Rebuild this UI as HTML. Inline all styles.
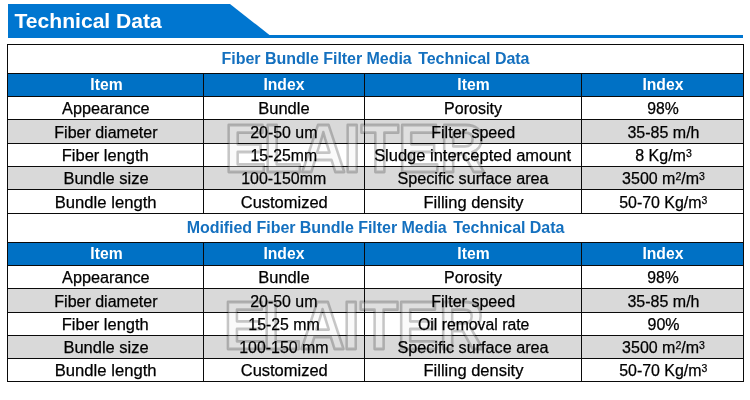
<!DOCTYPE html>
<html lang="en"><head><meta charset="utf-8"><title>Technical Data</title>
<style>
html,body{margin:0;padding:0;background:#fff;}
body{width:750px;height:400px;position:relative;overflow:hidden;font-family:"Liberation Sans",Arial,sans-serif;color:#000;}
.banner{position:absolute;left:8px;top:4px;width:262px;height:34px;background:#0076d0;clip-path:polygon(0 0,222px 0,261.5px 31px,262px 34px,0 34px);}
.bline{position:absolute;left:8px;top:35px;width:735px;height:3px;background:#0076d0;}
.btxt{position:absolute;left:14.5px;top:5px;height:31px;line-height:31px;font-size:21.1px;font-weight:bold;color:#fff;white-space:nowrap;letter-spacing:0;}
.tbl{position:absolute;left:7px;top:44px;width:737px;height:338px;background:#0a0a0a;}
.row{position:absolute;left:0;width:737px;}
.c{position:absolute;top:0;height:100%;display:flex;align-items:center;justify-content:center;white-space:nowrap;font-size:16px;}
.w .c,.g .c{-webkit-text-stroke:0.25px #000;}
.w .c{background:#fff;}
.g .c{background:#d9d9d9;}
.head .c{background:#0071c5;color:#fff;font-weight:bold;font-size:16px;}
.head .c span{transform:scaleX(0.98);top:0px;}
.title .c{background:#fff;color:#1470bf;font-weight:bold;font-size:16px;letter-spacing:-0.04px;}
.title .c span{top:0px;}
.title i{display:inline-block;width:2.1px;}
.w .c span,.g .c span{transform:scaleX(1.03);top:1px;}
.c span{display:block;position:relative;z-index:2;}
sup{font-size:10.5px;line-height:0;vertical-align:baseline;position:relative;top:-3.8px;}
.wm{position:absolute;left:0;top:0;width:750px;height:400px;pointer-events:none;z-index:1;}
</style></head><body>
<div class="banner"></div><div class="bline"></div><div class="btxt">Technical Data</div>
<div class="tbl">
<div class="row title" style="top:1px;height:28px"><div class="c" style="left:1px;width:735px"><span>Fiber Bundle Filter Media <i></i>Technical Data</span></div></div>
<div class="row head" style="top:30px;height:22px"><div class="c" style="left:1px;width:195px"><span style="transform:translateX(1px) scaleX(0.98)">Item</span></div><div class="c" style="left:197px;width:160px"><span>Index</span></div><div class="c" style="left:358px;width:216px"><span>Item</span></div><div class="c" style="left:575px;width:161px"><span>Index</span></div></div>
<div class="row w" style="top:53px;height:22px"><div class="c" style="left:1px;width:195px"><span style="transform:translateX(0.7px) scaleX(1.015)">Appearance</span></div><div class="c" style="left:197px;width:160px"><span style="transform:translateX(0px) scaleX(1.03)">Bundle</span></div><div class="c" style="left:358px;width:216px"><span style="transform:translateX(0px) scaleX(1.0)">Porosity</span></div><div class="c" style="left:575px;width:161px"><span style="transform:translateX(1px) scaleX(0.985)">98%</span></div></div>
<div class="row g" style="top:76px;height:23px"><div class="c" style="left:1px;width:195px"><span style="transform:translateX(0.4px) scaleX(1.0)">Fiber diameter</span></div><div class="c" style="left:197px;width:160px"><span style="transform:translateX(0px) scaleX(0.995)">20-50 um</span></div><div class="c" style="left:358px;width:216px"><span style="transform:translateX(0.4px) scaleX(1.005)">Filter speed</span></div><div class="c" style="left:575px;width:161px"><span style="transform:translateX(1px) scaleX(1.0)">35-85 m/h</span></div></div>
<div class="row w" style="top:100px;height:22px"><div class="c" style="left:1px;width:195px"><span style="transform:translateX(0px) scaleX(1.03)">Fiber length</span></div><div class="c" style="left:197px;width:160px"><span style="transform:translateX(0px) scaleX(0.985)">15-25mm</span></div><div class="c" style="left:358px;width:216px"><span style="transform:translateX(0px) scaleX(1.03)">Sludge intercepted amount</span></div><div class="c" style="left:575px;width:161px"><span style="transform:translateX(1px) scaleX(1.0)">8 Kg/m<sup>3</sup></span></div></div>
<div class="row g" style="top:123px;height:22px"><div class="c" style="left:1px;width:195px"><span style="transform:translateX(0.7px) scaleX(1.03)">Bundle size</span></div><div class="c" style="left:197px;width:160px"><span style="transform:translateX(0px) scaleX(0.995)">100-150mm</span></div><div class="c" style="left:358px;width:216px"><span style="transform:translateX(0.3px) scaleX(1.012)">Specific surface area</span></div><div class="c" style="left:575px;width:161px"><span style="transform:translateX(1px) scaleX(1.0)">3500 m<sup>2</sup>/m<sup>3</sup></span></div></div>
<div class="row w" style="top:146px;height:23px"><div class="c" style="left:1px;width:195px"><span style="transform:translateX(-0.3px) scaleX(1.04)">Bundle length</span></div><div class="c" style="left:197px;width:160px"><span style="transform:translateX(0px) scaleX(1.03)">Customized</span></div><div class="c" style="left:358px;width:216px"><span style="transform:translateX(0px) scaleX(1.03)">Filling density</span></div><div class="c" style="left:575px;width:161px"><span style="transform:translateX(1px) scaleX(0.995)">50-70 Kg/m<sup>3</sup></span></div></div>
<div class="row title" style="top:170px;height:28px"><div class="c" style="left:1px;width:735px"><span>Modified Fiber Bundle Filter Media <i></i>Technical Data</span></div></div>
<div class="row head" style="top:199px;height:22px"><div class="c" style="left:1px;width:195px"><span style="transform:translateX(1px) scaleX(0.98)">Item</span></div><div class="c" style="left:197px;width:160px"><span>Index</span></div><div class="c" style="left:358px;width:216px"><span>Item</span></div><div class="c" style="left:575px;width:161px"><span>Index</span></div></div>
<div class="row w" style="top:222px;height:22px"><div class="c" style="left:1px;width:195px"><span style="transform:translateX(0.7px) scaleX(1.015)">Appearance</span></div><div class="c" style="left:197px;width:160px"><span style="transform:translateX(0px) scaleX(1.03)">Bundle</span></div><div class="c" style="left:358px;width:216px"><span style="transform:translateX(0px) scaleX(1.0)">Porosity</span></div><div class="c" style="left:575px;width:161px"><span style="transform:translateX(1px) scaleX(0.985)">98%</span></div></div>
<div class="row g" style="top:245px;height:23px"><div class="c" style="left:1px;width:195px"><span style="transform:translateX(0.4px) scaleX(1.0)">Fiber diameter</span></div><div class="c" style="left:197px;width:160px"><span style="transform:translateX(0px) scaleX(0.995)">20-50 um</span></div><div class="c" style="left:358px;width:216px"><span style="transform:translateX(0.4px) scaleX(1.005)">Filter speed</span></div><div class="c" style="left:575px;width:161px"><span style="transform:translateX(1px) scaleX(1.0)">35-85 m/h</span></div></div>
<div class="row w" style="top:269px;height:22px"><div class="c" style="left:1px;width:195px"><span style="transform:translateX(0px) scaleX(1.03)">Fiber length</span></div><div class="c" style="left:197px;width:160px"><span style="transform:translateX(0px) scaleX(0.99)">15-25 mm</span></div><div class="c" style="left:358px;width:216px"><span style="transform:translateX(0.2px) scaleX(0.986)">Oil removal rate</span></div><div class="c" style="left:575px;width:161px"><span style="transform:translateX(1px) scaleX(1.0)">90%</span></div></div>
<div class="row g" style="top:292px;height:22px"><div class="c" style="left:1px;width:195px"><span style="transform:translateX(0.7px) scaleX(1.03)">Bundle size</span></div><div class="c" style="left:197px;width:160px"><span style="transform:translateX(0px) scaleX(0.995)">100-150 mm</span></div><div class="c" style="left:358px;width:216px"><span style="transform:translateX(0.3px) scaleX(1.012)">Specific surface area</span></div><div class="c" style="left:575px;width:161px"><span style="transform:translateX(1px) scaleX(1.0)">3500 m<sup>2</sup>/m<sup>3</sup></span></div></div>
<div class="row w" style="top:315px;height:22px"><div class="c" style="left:1px;width:195px"><span style="transform:translateX(-0.3px) scaleX(1.04)">Bundle length</span></div><div class="c" style="left:197px;width:160px"><span style="transform:translateX(0px) scaleX(1.03)">Customized</span></div><div class="c" style="left:358px;width:216px"><span style="transform:translateX(0px) scaleX(1.03)">Filling density</span></div><div class="c" style="left:575px;width:161px"><span style="transform:translateX(1px) scaleX(0.995)">50-70 Kg/m<sup>3</sup></span></div></div>
</div>
<svg class="wm" viewBox="0 0 750 400"><g font-family="Liberation Sans, Arial, sans-serif" font-weight="bold" font-size="68.3" fill="rgba(240,240,240,0.3)" stroke="rgba(0,0,0,0.215)" stroke-width="2.7" stroke-linejoin="round" vector-effect="non-scaling-stroke"><text vector-effect="non-scaling-stroke" transform="translate(0,171.9) scale(0.915,1)" x="245.47 288.02 328.78 375.37 394.39 434.92 480.76" y="0">ELAITER</text><text vector-effect="non-scaling-stroke" transform="translate(0,349.4) scale(0.915,1)" x="244.49 287.03 327.80 374.39 393.41 433.94 479.77" y="0">ELAITER</text></g></svg>
</body></html>
